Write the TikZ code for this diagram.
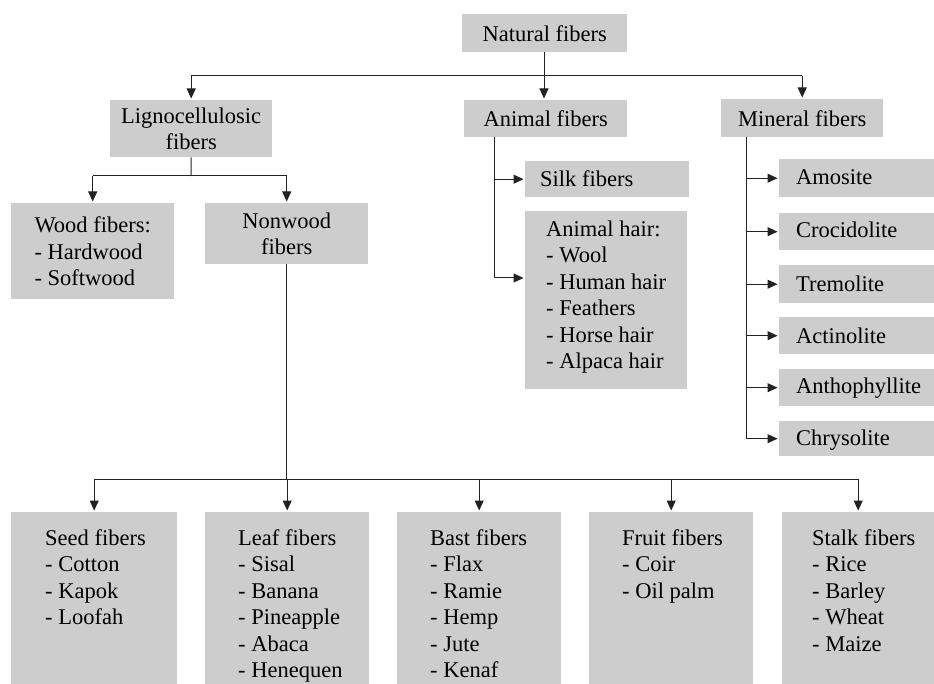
\documentclass[tikz,border=0pt]{standalone}
\usepackage{fontspec}
\setmainfont{Liberation Serif}
\usetikzlibrary{arrows.meta}
\definecolor{boxgray}{HTML}{CDCDCD}
\definecolor{linegray}{HTML}{222222}
\begin{document}
\begin{tikzpicture}[x=1pt,y=-1pt,
  box/.style={fill=boxgray, inner sep=0pt, anchor=north west, align=center,
    font=\fontsize{22.5}{26.5}\selectfont},
  lbl/.style={font=\fontsize{22.5}{26.5}\selectfont, align=left, inner sep=0pt},
  conn/.style={line width=1pt, draw=linegray},
  arr/.style={conn, -{Triangle[width=9pt,length=10pt]}, shorten >=1.5pt},
]
\useasboundingbox[fill=white] (0,0) rectangle (934,684);
% top level
\node[box, minimum width=165pt, minimum height=38pt] (nat) at (462,14) {Natural fibers};
\node[box, minimum width=162pt, minimum height=57pt] (lig) at (110,100) {Lignocellulosic\\fibers};
\node[box, minimum width=163pt, minimum height=37pt] (ani) at (464,100) {Animal fibers};
\node[box, minimum width=162pt, minimum height=38pt] (min) at (721,99) {Mineral fibers};
% lignocellulosic children
\node[box, minimum width=163pt, minimum height=96pt] (wood) at (11,203) {};
\node[lbl] (woodt) at (wood.center) {Wood fibers:\\- Hardwood\\- Softwood};
\node[box, minimum width=163pt, minimum height=61pt] (nonw) at (205,203) {Nonwood\\fibers};
% animal children
\node[box, minimum width=164pt, minimum height=36pt] (silk) at (525,161) {};
\node[lbl, anchor=west] (silkt) at (540,179) {Silk fibers};
\node[box, minimum width=162pt, minimum height=178pt] (hair) at (525,211) {};
\node[lbl, anchor=west] (hairt) at (546,297) {Animal hair:\\- Wool\\- Human hair\\- Feathers\\- Horse hair\\- Alpaca hair};
% mineral children
\node[box, minimum width=155pt, minimum height=38pt] (amo) at (779,159) {};
\node[box, minimum width=155pt, minimum height=37pt] (cro) at (779,213) {};
\node[box, minimum width=155pt, minimum height=38pt] (tre) at (779,265) {};
\node[box, minimum width=155pt, minimum height=37pt] (act) at (779,317) {};
\node[box, minimum width=155pt, minimum height=37pt] (ant) at (779,369) {};
\node[box, minimum width=155pt, minimum height=35pt] (chr) at (779,421) {};
\node[lbl, anchor=west] (amot) at (796,177) {Amosite};
\node[lbl, anchor=west] (crot) at (796,230) {Crocidolite};
\node[lbl, anchor=west] (tret) at (796,284) {Tremolite};
\node[lbl, anchor=west] (actt) at (796,336) {Actinolite};
\node[lbl, anchor=west] (antt) at (796,388) {Anthophyllite};
\node[lbl, anchor=base west] (chrt) at (796,445) {Chrysolite};
% bottom row
\node[box, minimum width=166pt, minimum height=172pt] (seed) at (11,512) {};
\node[box, minimum width=164pt, minimum height=172pt] (leaf) at (205,512) {};
\node[box, minimum width=164pt, minimum height=172pt] (bast) at (397,512) {};
\node[box, minimum width=164pt, minimum height=172pt] (fruit) at (589,512) {};
\node[box, minimum width=152pt, minimum height=172pt] (stalk) at (782,512) {};
\node[lbl, anchor=north west] (seedt) at (45,529) {Seed fibers\\- Cotton\\- Kapok\\- Loofah};
\node[lbl, anchor=north west] (leaft) at (238,529) {Leaf fibers\\- Sisal\\- Banana\\- Pineapple\\- Abaca\\- Henequen};
\node[lbl, anchor=north west] (bastt) at (430,529) {Bast fibers\\- Flax\\- Ramie\\- Hemp\\- Jute\\- Kenaf};
\node[lbl, anchor=north west] (fruitt) at (622,529) {Fruit fibers\\- Coir\\- Oil palm};
\node[lbl, anchor=north west] (stalkt) at (812,529) {Stalk fibers\\- Rice\\- Barley\\- Wheat\\- Maize};
% connectors: top level
\coordinate (j1) at (544,76);
\draw[conn] (j1 -| lig.north) -- (j1 -| min.north);
\draw[arr] (nat.south -| j1) -- (ani.north -| j1);
\draw[arr] (j1 -| lig.north) -- (lig.north);
\draw[arr] (j1 -| min.north) -- (min.north);
% lignocellulosic
\coordinate (j2) at (191,176);
\draw[conn] (lig.south) -- (j2);
\draw[conn] (j2 -| wood.north) -- (j2 -| nonw.north);
\draw[arr] (j2 -| wood.north) -- (wood.north);
\draw[arr] (j2 -| nonw.north) -- (nonw.north);
% nonwood
\coordinate (j3) at (287,479);
\draw[conn] (nonw.south) -- (nonw.south |- j3);
\draw[conn] (j3 -| seed.north) -- (j3 -| stalk.north);
\draw[arr] (j3 -| seed.north) -- (seed.north);
\draw[arr] (j3 -| leaf.north) -- (leaf.north);
\draw[arr] (j3 -| bast.north) -- (bast.north);
\draw[arr] (j3 -| fruit.north) -- (fruit.north);
\draw[arr] (j3 -| stalk.north) -- (stalk.north);
% animal
\coordinate (a0) at (494,137);
\coordinate (a1) at (525,278);
\draw[arr] (a0) |- (silk.west);
\draw[arr] (a0) |- (a1);
% mineral
\coordinate (m0) at (746,137);
\draw[arr] (m0) |- (amo.west);
\draw[arr] (m0) |- (cro.west);
\draw[arr] (m0) |- (tre.west);
\draw[arr] (m0) |- (act.west);
\draw[arr] (m0) |- (ant.west);
\draw[arr] (m0) |- (chr.west);
\end{tikzpicture}
\end{document}
